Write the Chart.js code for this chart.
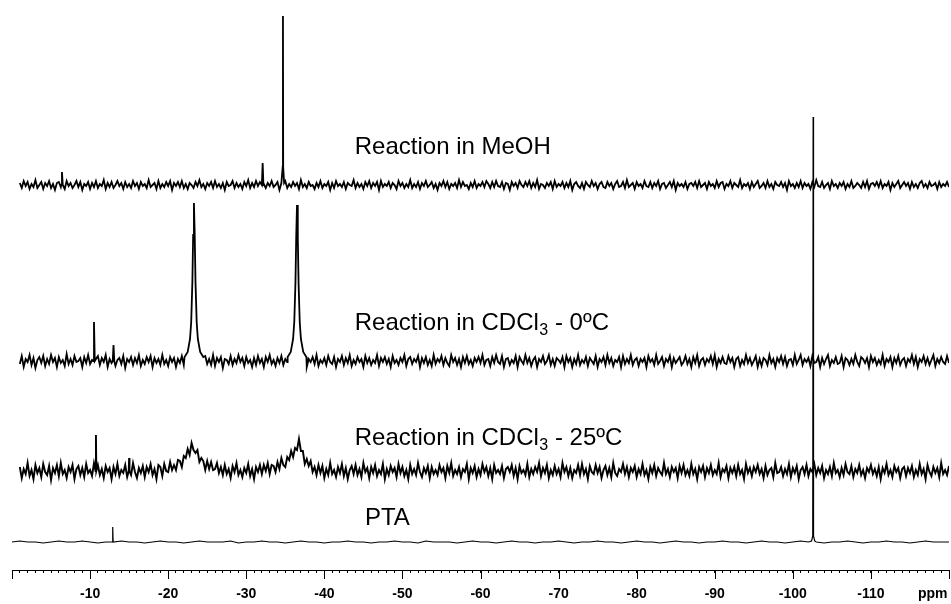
<!DOCTYPE html>
<html>
<head>
<meta charset="utf-8">
<script src="https://cdn.jsdelivr.net/npm/chart.js@4.4.1/dist/chart.umd.min.js"></script>
<style>
  html, body { margin: 0; padding: 0; background: #fff; }
  #wrap { width: 951px; height: 604px; position: relative; }
</style>
</head>
<body>
<div id="wrap"><canvas id="nmr"></canvas></div>
<script>
// sampling of the noisy spectra: ppm of first point and step (ppm)
const gridStart = -1
const gridStep = 0.25
const ptaStart = 0
const ptaStep = 1

// intensities, one value per grid point (-1 .. -120 ppm)
const meohNoise = [
  2,-3,4,-1,3,-4,1,-2,5,-3,0,3,-4,2,-1,4,-3,1,-5,2,
  3,-2,1,-4,4,-1,2,-3,0,4,-2,3,-5,1,-1,3,-4,2,-2,4,
  -3,1,-1,5,-4,2,-2,3,-3,0,4,-1,2,-4,3,-2,1,-3,4,-1,
  2,-4,3,-1,1,-3,5,-2,0,2,-4,4,-3,1,-2,3,-1,4,-5,2,
  -1,3,-2,4,-3,1,-4,2,0,-3,3,-1,5,-2,1,-4,2,-1,3,-3,
  4,-2,1,-3,2,-5,3,-1,0,4,-3,2,-2,1,-4,3,-1,5,-3,2,
  -2,4,-1,3,-4,1,-3,2,-1,4,-2,0,3,-5,2,-1,4,-3,1,-2,
  3,-1,2,-4,5,-2,1,-3,3,-1,0,-4,2,-2,4,-3,1,-1,3,-5,
  2,-3,4,-1,1,-2,3,-4,2,0,-1,5,-3,2,-2,1,-4,3,-1,4,
  -3,2,-1,3,-5,4,-2,1,-1,3,-3,2,0,-4,4,-1,2,-3,1,-2,
  5,-3,1,-2,3,-4,2,-1,4,-2,0,3,-3,1,-5,2,-1,4,-2,3,
  -4,1,-1,2,-3,5,-2,3,-1,0,-4,2,-2,4,-3,1,-1,3,-2,4,
  1,-3,3,-2,4,-1,-2,3,-4,2,1,-5,3,-1,2,-3,4,0,-2,3,
  -1,4,-3,2,-2,5,-4,1,0,-3,2,-1,3,-4,4,-2,1,-1,3,-3,
  2,-2,4,-5,1,3,-1,-3,2,-4,3,0,-2,4,-1,2,-4,1,3,-2,
  -3,3,-1,2,-4,1,4,-2,-1,3,-3,5,-2,0,2,-4,3,-1,1,-3,
  4,-1,-2,3,-3,2,-1,4,-4,1,2,-3,0,3,-2,4,-5,2,-1,1,
  -2,3,-4,1,2,-1,3,-3,4,-2,0,2,-4,3,-1,1,-3,4,-2,2,
  3,-4,1,-1,4,-3,2,0,-2,5,-3,1,-1,2,-4,3,-2,1,4,-3,
  -1,2,-3,4,-2,1,-4,3,0,-1,3,-2,2,-5,4,-1,1,-3,2,-2,
  4,-3,2,-1,1,-4,3,-2,5,-1,-2,3,-3,0,2,-4,4,-1,1,-3,
  2,-1,3,-4,1,-2,4,-3,-1,2,0,-3,3,-2,4,-4,1,2,-1,3,
  -2,4,-3,1,-1,3,-5,2,-2,1,4,-3,0,3,-1,2,-4,3,-2,1,
  -3,2,4,-2,1,-3,3,-1,0,2,-4,3,-2,1,-1,3,-2
]
const coldNoise = [
  -3,5,-6,2,-1,6,-4,3,-7,1,4,-2,5,-5,2,-3,6,-1,3,-6,
  4,-2,1,-5,7,-3,2,-4,5,-1,0,3,-6,4,-2,6,-3,1,-5,2,
  5,-4,3,-1,6,-6,2,-2,4,-5,1,3,-3,5,-7,2,-1,4,-4,3,
  -2,6,-5,1,-3,4,-1,5,-6,3,-2,2,-4,6,-3,1,-5,4,-1,3,
  -6,2,-2,5,-4,1,3,-5,6,-2,0,4,-6,3,-1,5,-3,2,-4,6,
  -5,3,-1,4,-7,2,1,-3,5,-4,2,-2,6,-1,3,-5,4,-2,1,-6,
  3,-4,5,-2,2,-6,4,-1,6,-3,1,-5,3,-2,5,-4,2,-1,4,-5,
  6,-3,1,-4,3,-2,5,-6,2,-1,4,-3,6,-5,1,-2,3,-4,5,-1,
  -3,4,-6,2,-1,5,-4,3,-2,6,-5,1,-3,4,-1,2,-6,5,-2,3,
  -4,1,-2,6,-5,3,-1,4,-3,2,-6,5,-2,1,-4,3,-1,6,-5,2,
  4,-3,2,-1,5,-6,3,-2,4,-4,1,-5,6,-3,2,-1,5,-4,3,-2,
  -5,6,-1,3,-4,2,-6,4,-2,5,-3,1,-5,3,-1,4,-2,6,-4,1,
  2,-5,4,-2,6,-1,-3,5,-6,2,3,-4,1,-2,5,-6,4,0,-3,6,
  -2,3,-5,1,4,-6,2,-1,5,-3,0,6,-4,2,-5,3,1,-2,4,-6,
  5,-1,3,-6,2,-3,6,-4,1,-2,4,-5,3,0,-3,5,-6,2,-1,4,
  -4,6,-2,3,-5,1,-1,4,-6,5,-3,2,-2,6,-4,1,3,-5,2,-1,
  3,-6,5,-1,2,-4,6,-3,0,4,-5,2,-1,5,-6,3,-2,1,4,-4,
  -1,5,-3,2,-6,4,-2,6,-5,1,3,-4,2,-1,5,-3,6,-6,2,-2,
  4,-2,-3,5,-1,3,-6,2,4,-5,1,-3,6,-2,3,-4,0,5,-6,2,
  -5,3,1,-4,6,-2,2,-6,3,-1,5,-3,4,-5,1,2,-4,6,-3,1,
  6,-4,2,-1,3,-5,5,-2,-1,4,-6,3,-3,2,6,-5,1,-2,4,-3,
  -2,5,-6,3,1,-4,2,-3,6,-1,-5,4,2,-2,3,-6,5,-1,3,-4,
  1,-3,6,-5,2,-1,4,-6,3,-2,5,-4,1,3,-5,2,-1,6,-3,4,
  -6,2,-1,5,-3,3,-4,1,6,-5,2,-2,4,-1,-3,5,-2
]
// 25 ºC spectrum, the two broad humps (-23.2 and -36.8 ppm) are part of it
const warmNoise = [
  4,-7,2,-3,8,-5,1,-8,6,-2,3,-6,7,-1,-4,5,-9,3,-2,6,
  -5,8,-3,1,-7,4,-1,6,-8,2,5,-4,3,-6,7,-2,1,-5,8,-3,
  6,-4,2,-7,5,-1,3,-8,4,-3,7,-5,1,-2,6,-6,3,-4,8,-1,
  -7,3,-2,5,-6,4,-1,7,-4,2,-8,6,
  4,-5,7,0,-1,9,1,6,1,11,10,4,15,13,22,16,28,21,18,21,9,13,10,1,10,2,9,1,2,8,-2,4,-4,
  6,-3,2,-7,5,-1,8,-4,1,-6,3,-2,7,-5,2,-8,4,-1,6,
  -3,6,0,8,-3,6,5,-1,9,2,13,6,4,14,11,20,14,23,21,32,20,20,7,12,5,10,-1,4,-4,6,-2,
  5,-7,2,-4,8,-3,1,-6,4,-2,7,-5,3,-8,1,5,-3,6,-4,2,
  -6,8,-1,3,-7,4,-2,6,-5,1,-3,7,-8,2,-4,5,-1,3,-6,7,
  -2,4,-5,1,-8,6,-3,2,-4,8,-1,-6,3,-2,5,-7,4,-3,1,-4,
  6,-1,3,-7,5,-2,8,-5,1,-3,4,-6,2,-1,7,-8,3,-2,5,-6,
  2,-4,7,-1,4,-5,3,-8,6,-2,1,-3,5,-7,2,4,-1,6,-5,3,
  -8,5,-2,1,-4,7,-6,2,-3,4,-1,8,-5,3,-2,6,-7,1,-4,5,
  -3,2,-6,8,-1,4,-5,3,-7,1,-2,6,-4,7,-3,2,-8,5,-1,-3,
  6,-2,4,-7,1,5,-4,3,-6,8,-2,-5,2,-1,7,-3,4,-6,3,-1,
  5,-6,2,-3,7,-4,1,-8,4,-2,6,-5,3,-1,-4,8,-3,2,-6,4,
  -1,3,-7,5,-2,6,-4,1,-5,7,-3,2,-8,4,-1,5,-6,3,-2,6,
  -4,1,-3,8,-6,2,-1,5,-7,3,-2,4,-5,6,-3,1,-8,7,-2,3,
  -5,4,-1,6,-3,2,-7,5,-4,1,3,-6,8,-2,-1,4,-5,2,-3,7,
  -6,3,-2,5,-8,1,4,-3,6,-5,2,-1,7,-4,3,-2,5,-7,1,-3,
  4,-5,8,-2,1,-6,3,-4,7,-1,-3,5,-6,2,-2,6,-4,1,-7,3,
  -1,6,-3,2,-5,4,-8,3,-2,7,-4,1,-6,5,-1,3,-7,2,4,-5,
  3,-2,5,-6,1,-4,7,-3,2,-8,6,-1,-5,4,-2,3,-6,8,-3,1,
  -4,5
]
// PTA reference, 1 ppm grid from 0 to -120 ppm
const ptaNoise = [
  0,1,0,0,-1,0,1,0,0,1,0,-1,0,0,1,0,0,-1,0,1,
  0,0,-1,0,1,0,0,0,1,-1,0,0,1,0,0,-1,0,1,0,0,
  -1,0,0,1,0,0,-1,0,0,1,0,0,-1,1,0,0,0,-1,0,1,
  0,0,-1,0,1,0,0,-1,0,0,1,0,-1,0,0,1,0,0,-1,0,
  1,0,0,-1,0,1,0,0,-1,0,0,1,0,0,-1,0,1,0,0,-1,
  0,1,0,0,-1,0,0,1,0,-1,0,0,1,0,0,-1,0,1,0,0,
  0
]

// sharp signals: [ppm, height above baseline]
const meohPeaks = [
  [[-6.3, 0], [-6.4, 13], [-6.5, 0]],
  [[-32.0, 0], [-32.1, 22], [-32.2, 0]],
  [[-34.55, 2], [-34.67, 18], [-34.7, 169], [-34.73, 18], [-34.85, 2]]
]
const coldPeaks = [
  [[-10.4, 0], [-10.5, 39], [-10.6, 0]],
  [[-12.9, 0], [-13.0, 16], [-13.1, 0]],
  [[-22.1, 4], [-22.5, 9], [-22.8, 22], [-22.95, 39], [-23.1, 79], [-23.2, 126], [-23.3, 158],
   [-23.4, 126], [-23.5, 79], [-23.65, 39], [-23.8, 22], [-24.1, 9], [-24.5, 4]],
  [[-35.3, 4], [-35.7, 9], [-36.0, 22], [-36.15, 39], [-36.3, 78], [-36.4, 124], [-36.5, 156],
   [-36.6, 124], [-36.7, 78], [-36.85, 39], [-37.0, 22], [-37.3, 9], [-37.7, 4]]
]
const warmPeaks = [
  [[-10.7, 0], [-10.75, 36], [-10.8, 0]],
  [[-14.95, 0], [-15.0, 13], [-15.05, 0]]
]
const ptaPeaks = [
  [[-12.85, 0], [-12.9, 15], [-12.95, 0]],
  [[-102.4, 1], [-102.55, 6], [-102.6, 425], [-102.65, 6], [-102.8, 1]]
]

const traceNames = ['Reaction in MeOH', 'Reaction in CDCl', 'Reaction in CDCl', 'PTA']
const traceSubs = ['', '3', '3', '']
const traceTails = ['', ' - 0ºC', ' - 25ºC', '']
const majorTicks = [0, -10, -20, -30, -40, -50, -60, -70, -80, -90, -100, -110, -120]

// layout: vertical offset of each spectrum (y units = px above the axis)
const offsets = { meoh: 385, cold: 209, warm: 99, pta: 28 }
const labelPos = [
  { ppm: -43.9, y: 416 }, { ppm: -43.9, y: 240 }, { ppm: -43.9, y: 125 }, { ppm: -45.2, y: 45 }
]

function buildTrace(noise, start, step, base, peaks) {
  const spans = peaks.map(p => [p[p.length - 1][0], p[0][0]])
  const pts = []
  noise.forEach((v, i) => {
    const ppm = start - i * step
    if (spans.some(([lo, hi]) => ppm >= lo && ppm <= hi)) return
    pts.push({ x: ppm, y: base + v })
  })
  peaks.forEach(p => p.forEach(([ppm, h]) => pts.push({ x: ppm, y: base + h })))
  pts.sort((a, b) => b.x - a.x)
  return pts
}

const line = (data, width) => ({
  data, borderColor: '#000', borderWidth: width, pointRadius: 0, tension: 0, fill: false
})

const datasets = [
  line(buildTrace(meohNoise, gridStart, gridStep, offsets.meoh, meohPeaks), 1.8),
  line(buildTrace(coldNoise, gridStart, gridStep, offsets.cold, coldPeaks), 1.8),
  line(buildTrace(warmNoise, gridStart, gridStep, offsets.warm, warmPeaks), 1.9),
  line(buildTrace(ptaNoise, ptaStart, ptaStep, offsets.pta, ptaPeaks), 1.2)
]

const decorations = {
  id: 'decorations',
  afterDraw(chart) {
    const { ctx, scales: { x, y } } = chart
    const axisY = chart.chartArea.bottom
    ctx.save()
    // longer major ticks
    ctx.strokeStyle = '#000'
    ctx.lineWidth = 1
    majorTicks.forEach(v => {
      const px = Math.round(x.getPixelForValue(v)) + 0.5
      ctx.beginPath()
      ctx.moveTo(px, axisY)
      ctx.lineTo(px, axisY + 9)
      ctx.stroke()
    })
    ctx.fillStyle = '#000'
    ctx.font = "bold 14px 'Liberation Sans', Arial, sans-serif"
    ctx.textBaseline = 'alphabetic'
    ctx.fillText('ppm', 918, 598)
    // spectrum labels
    traceNames.forEach((name, i) => {
      let px = x.getPixelForValue(labelPos[i].ppm)
      const py = y.getPixelForValue(labelPos[i].y)
      ctx.font = "24px 'Liberation Sans', Arial, sans-serif"
      ctx.fillText(name, px, py)
      px += ctx.measureText(name).width
      if (traceSubs[i]) {
        ctx.font = "16px 'Liberation Sans', Arial, sans-serif"
        ctx.fillText(traceSubs[i], px + 0.5, py + 5)
        px += ctx.measureText(traceSubs[i]).width + 0.5
      }
      if (traceTails[i]) {
        ctx.font = "24px 'Liberation Sans', Arial, sans-serif"
        ctx.fillText(traceTails[i], px, py)
      }
    })
    ctx.restore()
  }
}

new Chart(document.getElementById('nmr'), {
  type: 'line',
  data: { datasets },
  options: {
    responsive: true,
    maintainAspectRatio: false,
    animation: false,
    events: [],
    layout: { padding: { left: 12, right: 2, top: 0, bottom: 0 } },
    plugins: { legend: { display: false }, tooltip: { enabled: false } },
    scales: {
      x: {
        type: 'linear', min: -120, max: 0, reverse: true,
        afterFit: s => { s.height = 34; s.paddingLeft = 0; s.paddingRight = 0 },
        border: { display: true, color: '#000', width: 1 },
        grid: { drawOnChartArea: false, drawTicks: true, tickLength: 3, color: '#000', tickColor: '#000' },
        ticks: {
          stepSize: 1, autoSkip: false, maxRotation: 0, padding: 13, color: '#000',
          font: { family: "'Liberation Sans Narrow', 'Liberation Sans', Arial, sans-serif", size: 14, weight: 'bold' },
          callback: v => (v % 10 === 0 && v !== 0 && v !== -120) ? String(v) : ''
        }
      },
      y: { type: 'linear', display: false, min: 0, max: 570 }
    }
  },
  plugins: [decorations]
})
</script>
</body>
</html>
